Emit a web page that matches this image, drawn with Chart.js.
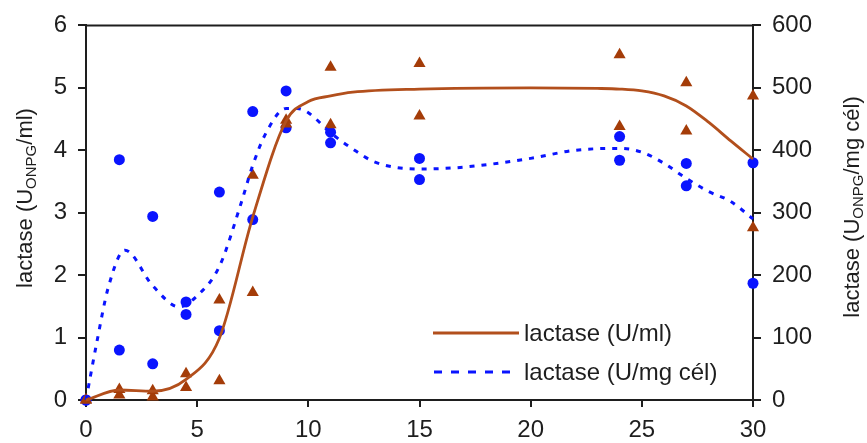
<!DOCTYPE html>
<html>
<head>
<meta charset="utf-8">
<script src="https://cdn.jsdelivr.net/npm/chart.js@4/dist/chart.umd.min.js"></script>
<style>
  html, body { margin: 0; padding: 0; background: #fff; }
  #wrap { width: 867px; height: 443px; }
</style>
</head>
<body>
<div id="wrap"><canvas id="myChart" width="867" height="443"></canvas></div>
<script>
// measured points (time in h)
var timeH = [0, 1.5, 3, 4.5, 6, 7.5, 9, 11, 15, 24, 27, 30]
// lactase U/ml, two replicates
var mlRepA = [0, 0.17, 0.15, 0.42, 1.6, 3.6, 4.48, 5.33, 5.39, 5.53, 5.08, 4.87]
var mlRepB = [0, 0.08, 0.05, 0.2, 0.31, 1.72, 4.42, 4.41, 4.55, 4.38, 4.31, 2.76]
// lactase U/mg cel, two replicates
var mgRepA = [0, 385, 294, 157, 333, 462, 495, 429, 387, 422, 379, 380]
var mgRepB = [0, 80, 58, 137, 111, 289, 436, 412, 353, 384, 343, 187]

// fitted curves
var fitTimeMl = [0, 1.5, 3, 4.5, 6, 7.5, 9, 10, 11, 12, 15, 20, 23, 24, 25, 26, 27, 28, 29, 30]
var fitMl = [0, 0.16, 0.14, 0.33, 0.99, 2.93, 4.47, 4.78, 4.87, 4.93, 4.98, 5.0, 4.99, 4.98, 4.95, 4.87, 4.71, 4.45, 4.15, 3.86]
var fitTimeMg = [0, 0.5, 1, 1.75, 3, 4.2, 5, 6, 7, 7.5, 8.1, 9, 9.5, 10, 11, 12, 13, 15, 17, 20, 22, 24, 25, 26, 27, 28, 29, 30]
var fitMg = [0, 95, 180, 240, 183, 149, 167, 214, 318, 376, 428, 467, 467, 460, 428, 402, 381, 370, 373, 387, 400, 403, 397, 379, 355, 334, 318, 290]

var xTicks = [0, 5, 10, 15, 20, 25, 30]
var legendLabels = ['lactase (U/ml)', 'lactase (U/mg cél)']

var brown = '#a43c08'
var brownLine = '#b24f1c'
var blue = '#0a14ff'
var ink = '#1e1e1e'
var fontFam = "'Liberation Sans', Arial, sans-serif"

function pairs(xs, ys){
    var out = []
    for (var i=0; i<xs.length; i++){
        out.push({x: xs[i], y: ys[i]})
    }
    return out
}

// axis titles with subscript, legend and top frame line
var extras = {
    id: 'extras',
    afterDraw: function(chart){
        var ctx = chart.ctx
        var a = chart.chartArea
        ctx.save()
        // top border
        ctx.strokeStyle = ink
        ctx.lineWidth = 2
        ctx.beginPath()
        ctx.moveTo(a.left - 1, a.top)
        ctx.lineTo(a.right + 1, a.top)
        ctx.stroke()

        function rotTitle(cx, cy, parts){
            ctx.save()
            ctx.translate(cx, cy)
            ctx.rotate(-Math.PI/2)
            ctx.fillStyle = ink
            ctx.textBaseline = 'alphabetic'
            ctx.textAlign = 'left'
            var total = 0
            parts.forEach(function(p){
                ctx.font = (p.sub ? '15px ' : '22px ') + fontFam
                total += ctx.measureText(p.t).width
            })
            var x = -total/2
            parts.forEach(function(p){
                ctx.font = (p.sub ? '15px ' : '22px ') + fontFam
                ctx.fillText(p.t, x, p.sub ? 12 : 8)
                x += ctx.measureText(p.t).width
            })
            ctx.restore()
        }
        rotTitle(24, 198, [{t:'lactase (U'}, {t:'ONPG', sub:true}, {t:'/ml)'}])
        rotTitle(851, 207, [{t:'lactase (U'}, {t:'ONPG', sub:true}, {t:'/mg cél)'}])

        // legend
        ctx.font = '24px ' + fontFam
        ctx.textBaseline = 'middle'
        ctx.fillStyle = ink
        ctx.lineWidth = 2.8
        ctx.strokeStyle = brownLine
        ctx.setLineDash([])
        ctx.beginPath(); ctx.moveTo(433, 333); ctx.lineTo(519, 333); ctx.stroke()
        ctx.fillText(legendLabels[0], 524, 334)
        ctx.strokeStyle = blue
        ctx.lineWidth = 3
        ctx.setLineDash([8, 9])
        ctx.beginPath(); ctx.moveTo(434, 372); ctx.lineTo(519, 372); ctx.stroke()
        ctx.setLineDash([])
        ctx.fillText(legendLabels[1], 524, 373)
        ctx.restore()
    }
}

var ctx = document.getElementById('myChart')
var myChart = new Chart(ctx, {
    type: 'scatter',
    data: {
        datasets: [
            {
                type: 'line',
                data: pairs(fitTimeMl, fitMl),
                yAxisID: 'y',
                borderColor: brownLine,
                borderWidth: 2.8,
                pointRadius: 0,
                fill: false,
                cubicInterpolationMode: 'monotone',
                clip: false
            },
            {
                type: 'line',
                data: pairs(fitTimeMg, fitMg),
                yAxisID: 'y2',
                borderColor: blue,
                borderWidth: 3,
                borderDash: [5, 7],
                pointRadius: 0,
                fill: false,
                cubicInterpolationMode: 'monotone',
                clip: false
            },
            {
                data: pairs(timeH, mlRepA).concat(pairs(timeH, mlRepB)),
                yAxisID: 'y',
                pointStyle: 'triangle',
                pointRadius: 7,
                backgroundColor: brown,
                borderColor: brown,
                borderWidth: 0,
                clip: false
            },
            {
                data: pairs(timeH, mgRepA).concat(pairs(timeH, mgRepB)),
                yAxisID: 'y2',
                pointStyle: 'circle',
                pointRadius: 5.5,
                backgroundColor: blue,
                borderColor: blue,
                borderWidth: 0,
                clip: false
            }
        ]
    },
    options: {
        responsive: false,
        animation: false,
        layout: { padding: { top: 17, left: 0, right: 0, bottom: 0 } },
        plugins: {
            legend: { display: false },
            tooltip: { enabled: false }
        },
        scales: {
            x: {
                type: 'linear',
                min: 0, max: 30,
                afterBuildTicks: function(scale){
                    scale.ticks = xTicks.map(function(v){ return {value: v} })
                },
                afterFit: function(scale){ scale.height = 43 },
                grid: { drawOnChartArea: false, drawTicks: true, tickLength: 7, color: ink, lineWidth: 2 },
                border: { display: true, color: ink, width: 2 },
                ticks: { color: ink, padding: 9, maxRotation: 0, font: { size: 24, family: fontFam } }
            },
            y: {
                position: 'left',
                min: 0, max: 6,
                afterFit: function(scale){ scale.width = 86 },
                grid: { drawOnChartArea: false, drawTicks: true, tickLength: 8, color: ink, lineWidth: 2 },
                border: { display: true, color: ink, width: 2 },
                ticks: { stepSize: 1, color: ink, padding: 11, font: { size: 24, family: fontFam } }
            },
            y2: {
                position: 'right',
                min: 0, max: 600,
                afterFit: function(scale){ scale.width = 114 },
                grid: { drawOnChartArea: false, drawTicks: true, tickLength: 8, color: ink, lineWidth: 2 },
                border: { display: true, color: ink, width: 2 },
                ticks: { stepSize: 100, color: ink, padding: 11, font: { size: 24, family: fontFam } }
            }
        }
    },
    plugins: [extras]
})
</script>
</body>
</html>
